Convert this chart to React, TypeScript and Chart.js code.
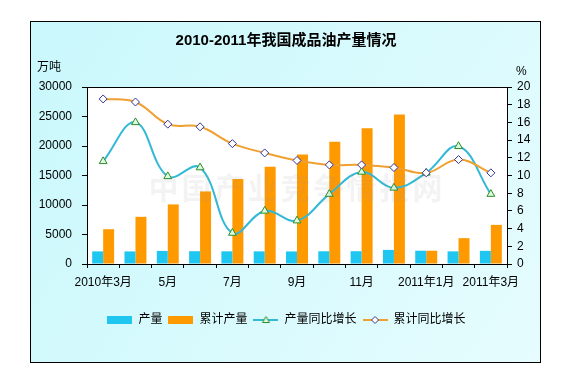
import React, { useEffect, useRef } from 'react';
import { Chart, registerables } from 'chart.js';

Chart.register(...registerables);

const categories = ['2010年3月', '4月', '5月', '6月', '7月', '8月', '9月', '10月', '11月', '12月', '2011年1月', '2月', '2011年3月'];
const tickLabels = ['2010年3月', '', '5月', '', '7月', '', '9月', '', '11月', '', '2011年1月', '', '2011年3月'];
const monthlyOutput = [2140, 2130, 2220, 2170, 2150, 2140, 2130, 2160, 2170, 2390, 2250, 2140, 2230];
const cumulativeOutput = [5900, 8000, 10100, 12300, 14400, 16500, 18550, 20740, 22990, 25350, 2250, 4380, 6630];
const monthlyGrowth = [11.6, 16.0, 9.9, 10.9, 3.5, 6.0, 4.9, 7.9, 10.4, 8.6, 10.3, 13.3, 7.9];
const cumulativeGrowth = [18.65, 18.3, 15.8, 15.5, 13.6, 12.55, 11.7, 11.2, 11.2, 10.9, 10.3, 11.8, 10.3];
const seriesNames = ['产量', '累计产量', '产量同比增长', '累计同比增长'];
const titleText = '2010-2011年我国成品油产量情况';
const leftUnit = '万吨';
const rightUnit = '%';
const watermark = '中国产业竞争情报网';

const FONT = "'Liberation Sans', 'Noto Sans CJK SC', Arial, sans-serif";
const CJK = "'Noto Sans CJK SC', 'Liberation Sans', sans-serif";

const CYAN_BAR = '#1EC6F0';
const ORANGE_BAR = '#FF9900';
const CYAN_LINE = '#33B9D6';
const ORANGE_LINE = '#F0A030';

function boxImg(color: string) {
  const c = document.createElement('canvas');
  c.width = 25;
  c.height = 8;
  const g = c.getContext('2d')!;
  g.fillStyle = color;
  g.fillRect(0, 0, 25, 8);
  return c;
}

function lineImg(color: string, marker: 'tri' | 'dia', stroke: string, fill: string) {
  const c = document.createElement('canvas');
  c.width = 25;
  c.height = 10;
  const g = c.getContext('2d')!;
  g.strokeStyle = color;
  g.lineWidth = 2;
  g.beginPath();
  g.moveTo(0, 5);
  g.lineTo(25, 5);
  g.stroke();
  g.fillStyle = fill;
  g.strokeStyle = stroke;
  g.lineWidth = 1;
  g.beginPath();
  if (marker === 'tri') {
    g.moveTo(12.5, 1.5);
    g.lineTo(16, 7.5);
    g.lineTo(9, 7.5);
  } else {
    g.moveTo(12.5, 1.5);
    g.lineTo(16, 5);
    g.lineTo(12.5, 8.5);
    g.lineTo(9, 5);
  }
  g.closePath();
  g.fill();
  g.stroke();
  return c;
}

const framePlugin = {
  id: 'frame',
  beforeDraw(chart: any) {
    const { ctx, chartArea } = chart;
    ctx.save();
    ctx.fillStyle = '#ffffff';
    ctx.fillRect(0, 0, chart.width, chart.height);
    const grad = ctx.createLinearGradient(30, 21, 541, 363);
    grad.addColorStop(0, '#C9F8FC');
    grad.addColorStop(1, '#E6FCFE');
    ctx.fillStyle = grad;
    ctx.fillRect(30, 21, 511, 342);
    ctx.strokeStyle = '#000';
    ctx.lineWidth = 1;
    ctx.strokeRect(30.5, 21.5, 510, 341);
    ctx.fillStyle = '#ffffff';
    ctx.fillRect(chartArea.left, chartArea.top, chartArea.right - chartArea.left, chartArea.bottom - chartArea.top);
    ctx.restore();
  },
  afterDatasetsDraw(chart: any) {
    const { ctx, chartArea } = chart;
    ctx.save();
    ctx.font = `bold 30px ${CJK}`;
    (ctx as any).letterSpacing = '3px';
    ctx.fillStyle = 'rgba(150,150,150,0.11)';
    ctx.textAlign = 'center';
    ctx.textBaseline = 'middle';
    ctx.fillText(watermark, (chartArea.left + chartArea.right) / 2, 188);
    ctx.restore();
  },
  afterDraw(chart: any) {
    const { ctx, chartArea } = chart;
    ctx.save();
    ctx.strokeStyle = '#000';
    ctx.lineWidth = 1;
    ctx.beginPath();
    ctx.moveTo(chartArea.left, Math.round(chartArea.top) + 0.5);
    ctx.lineTo(chartArea.right, Math.round(chartArea.top) + 0.5);
    ctx.stroke();
    ctx.fillStyle = '#000';
    ctx.textBaseline = 'middle';
    ctx.textAlign = 'center';
    ctx.font = `bold 15px ${FONT}`;
    ctx.fillText(titleText, 286, 41);
    ctx.font = `12px ${FONT}`;
    ctx.textAlign = 'left';
    ctx.fillText(leftUnit, 37, 68);
    ctx.fillText(rightUnit, 516, 72);
    ctx.restore();
  },
};

export default function App() {
  const ref = useRef<HTMLCanvasElement | null>(null);

  useEffect(() => {
    if (!ref.current) return;
    const legendImgs = [
      boxImg(CYAN_BAR),
      boxImg(ORANGE_BAR),
      lineImg(CYAN_LINE, 'tri', '#2E8B2E', '#DDFFDD'),
      lineImg(ORANGE_LINE, 'dia', '#333399', '#ffffff'),
    ];
    const tickFont = { family: FONT, size: 12 };
    const plain = (v: any) => String(v);
    const chart = new Chart(ref.current, {
      type: 'bar',
      data: {
        labels: categories,
        datasets: [
          {
            type: 'bar',
            label: seriesNames[0],
            data: monthlyOutput,
            backgroundColor: CYAN_BAR,
            yAxisID: 'y',
            order: 2,
            barPercentage: 1,
            categoryPercentage: 0.68,
          },
          {
            type: 'bar',
            label: seriesNames[1],
            data: cumulativeOutput,
            backgroundColor: ORANGE_BAR,
            yAxisID: 'y',
            order: 2,
            barPercentage: 1,
            categoryPercentage: 0.68,
          },
          {
            type: 'line',
            label: seriesNames[2],
            data: monthlyGrowth,
            borderColor: CYAN_LINE,
            borderWidth: 2,
            tension: 0.4,
            pointStyle: 'triangle',
            pointRadius: 4.5,
            pointBorderColor: '#2E8B2E',
            pointBackgroundColor: '#DDFFDD',
            pointBorderWidth: 1,
            yAxisID: 'y1',
            order: 1,
          },
          {
            type: 'line',
            label: seriesNames[3],
            data: cumulativeGrowth,
            borderColor: ORANGE_LINE,
            borderWidth: 2,
            tension: 0.4,
            pointStyle: 'rectRot',
            pointRadius: 4,
            pointBorderColor: '#333399',
            pointBackgroundColor: '#ffffff',
            pointBorderWidth: 1,
            yAxisID: 'y1',
            order: 0,
          },
        ],
      } as any,
      options: {
        responsive: false,
        animation: false,
        devicePixelRatio: 1,
        layout: { padding: { top: 87, left: 0, right: 0, bottom: 44 } },
        plugins: {
          tooltip: { enabled: false },
          title: { display: false },
          legend: {
            position: 'bottom',
            labels: {
              usePointStyle: true,
              pointStyleWidth: 25,
              boxHeight: 8,
              padding: 6,
              color: '#000',
              font: { family: FONT, size: 12 },
              generateLabels: () =>
                seriesNames.map((name, i) => ({
                  text: name,
                  pointStyle: legendImgs[i] as any,
                  fillStyle: 'transparent',
                  strokeStyle: 'transparent',
                  lineWidth: 0,
                  hidden: false,
                  datasetIndex: i,
                  fontColor: '#000',
                })),
            },
          },
        },
        scales: {
          x: {
            offset: true,
            grid: { offset: true, drawOnChartArea: false, tickLength: 4, color: '#000' },
            border: { color: '#000' },
            ticks: {
              autoSkip: false,
              maxRotation: 0,
              minRotation: 0,
              padding: 7,
              color: '#000',
              font: tickFont,
              callback: (_v: any, i: number) => tickLabels[i],
            },
            afterFit: (s: any) => {
              s.height = 44;
            },
          },
          y: {
            position: 'left',
            min: 0,
            max: 30000,
            ticks: { stepSize: 5000, padding: 10, color: '#000', font: tickFont, callback: plain },
            grid: { drawOnChartArea: false, tickLength: 5, color: '#000' },
            border: { color: '#000' },
            afterFit: (s: any) => {
              s.width = 87;
            },
          },
          y1: {
            position: 'right',
            min: 0,
            max: 20,
            ticks: { stepSize: 2, padding: 5, color: '#000', font: tickFont, callback: plain },
            grid: { drawOnChartArea: false, tickLength: 5, color: '#000' },
            border: { color: '#000' },
            afterFit: (s: any) => {
              s.width = 66;
            },
          },
        },
      } as any,
      plugins: [framePlugin],
    });
    return () => chart.destroy();
  }, []);

  return (
    <div style={{ position: 'absolute', left: 0, top: 0, width: 573, height: 380 }}>
      <canvas ref={ref} width={573} height={380} style={{ width: 573, height: 380, display: 'block' }} />
    </div>
  );
}
